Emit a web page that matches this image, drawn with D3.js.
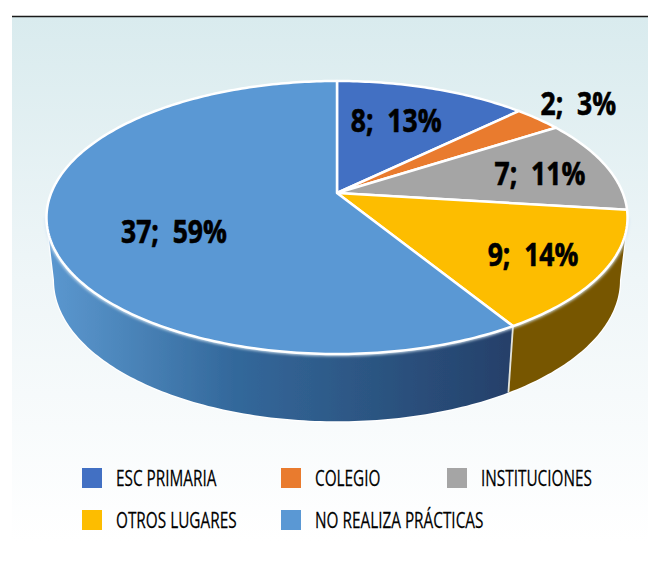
<!DOCTYPE html>
<html>
<head>
<meta charset="utf-8">
<script src="https://cdn.jsdelivr.net/npm/d3@7"></script>
<style>
    html, body { margin: 0; padding: 0; background: #fff; }
    svg { display: block; }
    text { font-family: "Open Sans", sans-serif; white-space: pre; fill: #000; }
</style>
</head>
<body>
<div id="the_chart"></div>
<script>
const categories = ["ESC PRIMARIA", "COLEGIO", "INSTITUCIONES", "OTROS LUGARES", "NO REALIZA PRÁCTICAS"];
const counts = [8, 2, 7, 9, 37];
const percents = [13, 3, 11, 14, 59];
const colors = ["#4270c3", "#e97b2e", "#a5a5a5", "#fdbd00", "#5a98d4"];
const wallColors = [null, null, null, "#775600", "url(#blueWall)"];

// where each label sits, as a fraction of the radius along its slice
const labelRadius = [0.65, 1.2, 0.75, 0.76, 0.6];
const labelShift = [[-6, -1], [5, -2], [0, 2], [-1, 3], [7, 16]];

var w = 648, h = 564;

var svg = d3.select("#the_chart")
    .append("svg")
    .attr("width", w)
    .attr("height", h);

var defs = svg.append("defs");

var bg = defs.append("linearGradient").attr("id", "bg")
    .attr("x1", 0).attr("y1", 0).attr("x2", 0).attr("y2", 1);
bg.append("stop").attr("offset", "0").attr("stop-color", "#d9ebee");
bg.append("stop").attr("offset", "0.5").attr("stop-color", "#eff6f8");
bg.append("stop").attr("offset", "1").attr("stop-color", "#ffffff");

var bw = defs.append("linearGradient").attr("id", "blueWall")
    .attr("gradientUnits", "userSpaceOnUse")
    .attr("x1", 50).attr("y1", 0).attr("x2", 510).attr("y2", 0);
bw.append("stop").attr("offset", "0").attr("stop-color", "#5b97cf");
bw.append("stop").attr("offset", "0.15").attr("stop-color", "#4d87bc");
bw.append("stop").attr("offset", "0.4").attr("stop-color", "#33689b");
bw.append("stop").attr("offset", "0.7").attr("stop-color", "#2c5582");
bw.append("stop").attr("offset", "1").attr("stop-color", "#25406a");

defs.append("filter").attr("id", "soft")
    .attr("x", "-5%").attr("y", "-5%").attr("width", "110%").attr("height", "110%")
    .append("feGaussianBlur").attr("stdDeviation", 1.6);
defs.append("filter").attr("id", "edge")
    .attr("x", "-5%").attr("y", "-5%").attr("width", "110%").attr("height", "110%")
    .append("feGaussianBlur").attr("stdDeviation", 0.5);

svg.append("rect")
    .attr("x", 12).attr("y", 17)
    .attr("width", w - 12).attr("height", 525)
    .attr("fill", "url(#bg)");
svg.append("line")
    .attr("x1", 12).attr("x2", w)
    .attr("y1", 16.5).attr("y2", 16.5)
    .attr("stroke", "#1a1a1a")
    .attr("stroke-width", 1.5);

/* PIE */
var pie = d3.pie().sort(null).value(d => d);
var slices = pie(counts);

// the disc is tilted away from the viewer, so the centre is not the middle of the ellipse
var apex = { x: 337, y: 193 };
var tilt = 0.1795, spanX = 285.8, spanY = 132.1;

function project(a, r, o) {
    // o is the rim being drawn: the top one or the lower one of the wall
    var d = 1 + tilt * r * Math.cos(a);
    return [
        o.x + o.sx * spanX * r * Math.sin(a) / d,
        o.y - o.sy * spanY * r * Math.cos(a) / d
    ];
}

var topRim = { x: apex.x, y: apex.y, sx: 1, sy: 1 };
var lowRim = { x: apex.x, y: 255, sx: 0.974, sy: 1.033 };

function rim(a0, a1, o) {
    var n = Math.max(2, Math.ceil((a1 - a0) * 60));
    return d3.range(n + 1).map(i => project(a0 + (a1 - a0) * i / n, 1, o));
}

var line = d3.line();

// silhouette of the disc: the wall is only seen between these two angles
var wallA = Math.acos(-tilt), wallB = 2 * Math.PI - wallA;

var walls = slices
    .map((d, i) => ({ a0: Math.max(d.startAngle, wallA), a1: Math.min(d.endAngle, wallB), fill: wallColors[i] }))
    .filter(d => d.fill && d.a1 > d.a0);

function wallPath(d) {
    return line(rim(d.a0, d.a1, topRim).concat(rim(d.a0, d.a1, lowRim).reverse())) + "Z";
}

// white glow round the wall
svg.selectAll("path.halo")
    .data(walls)
    .enter().append("path")
    .attr("class", "halo")
    .attr("d", wallPath)
    .attr("fill", "none")
    .attr("stroke", "#ffffff")
    .attr("stroke-width", 2.5)
    .attr("filter", "url(#edge)");

svg.selectAll("path.wall")
    .data(walls)
    .enter().append("path")
    .attr("class", "wall")
    .attr("d", wallPath)
    .attr("fill", d => d.fill)
    .attr("filter", "url(#edge)");

// seam between the two walls
var seam = slices[4].startAngle;
svg.append("path")
    .attr("d", line([project(seam, 1, topRim), project(seam, 1, lowRim)]))
    .attr("stroke", "#e4e4dc")
    .attr("stroke-width", 1.8)
    .attr("fill", "none");

// light under the front edge of the disc
svg.append("path")
    .attr("d", line(rim(wallA, wallB, topRim)))
    .attr("fill", "none")
    .attr("stroke", "#d8e8f4")
    .attr("stroke-width", 4)
    .attr("filter", "url(#soft)");

svg.selectAll("path.slice")
    .data(slices)
    .enter().append("path")
    .attr("class", "slice")
    .attr("d", d => line([[apex.x, apex.y]].concat(rim(d.startAngle, d.endAngle, topRim))) + "Z")
    .attr("fill", (d, i) => colors[i])
    .attr("stroke", "#ffffff")
    .attr("stroke-width", 2.5)
    .attr("stroke-linejoin", "round");

/* LABELS */
// no condensed face is installed, so the text is squeezed sideways and thickened a little
svg.selectAll("text.value")
    .data(slices)
    .enter().append("text")
    .attr("class", "value")
    .attr("transform", (d, i) => {
        var p = project((d.startAngle + d.endAngle) / 2, labelRadius[i], topRim);
        return `translate(${p[0] + labelShift[i][0]},${p[1] + labelShift[i][1]}) scale(0.83,1)`;
    })
    .attr("dy", "0.36em")
    .attr("text-anchor", "middle")
    .attr("font-size", 32)
    .attr("font-weight", "bold")
    .attr("stroke", "#000")
    .attr("stroke-width", 0.6)
    .text((d, i) => `${counts[i]};  ${percents[i]}%`);

/* LEGEND */
var legendX = d3.scaleOrdinal().domain([0, 1, 2]).range([82, 281, 447]);
var legendY = d3.scalePoint().domain([0, 1]).range([468, 510]);

var legend = svg.selectAll("g.legend")
    .data(categories)
    .enter().append("g")
    .attr("class", "legend")
    .attr("transform", (d, i) => `translate(${legendX(i % 3)},${legendY(Math.floor(i / 3))})`);

legend.append("rect")
    .attr("width", 20)
    .attr("height", 20)
    .attr("fill", (d, i) => colors[i]);

legend.append("text")
    .attr("transform", "translate(34,18.3) scale(0.685,1)")
    .attr("font-size", 22.4)
    .attr("stroke", "#000")
    .attr("stroke-width", 0.25)
    .text(d => d);
</script>
</body>
</html>
